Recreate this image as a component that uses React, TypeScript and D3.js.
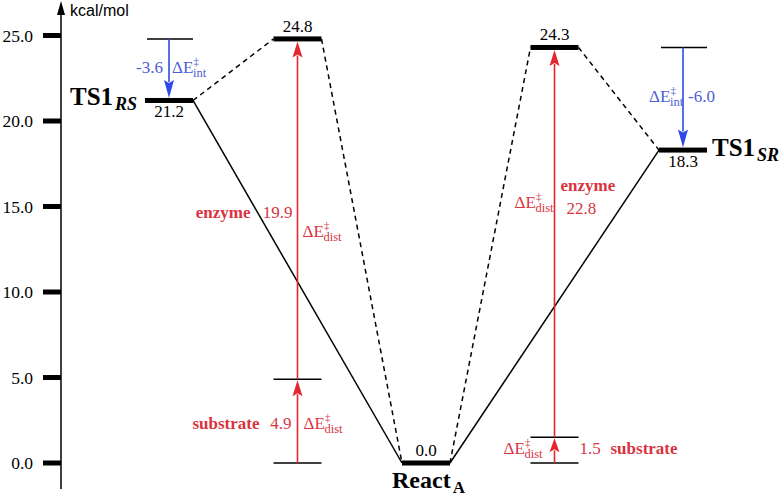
import React from "react";
import * as d3 from "d3";

// ---- data ----
const columnNames = ["TS1RS", "distRS", "ReactA", "distSR", "TS1SR"];
const levelEnergies = [21.2, 24.8, 0.0, 24.3, 18.3];
const levelLabels = ["21.2", "24.8", "0.0", "24.3", "18.3"];
const labelBelow = [true, false, false, false, true];
const substrateDist = [4.9, 1.5]; // columns 1 and 3
const enzymeDist = [19.9, 22.8]; // columns 1 and 3
const interactionE = [-3.6, -6.0]; // columns 0 and 4
const yTicks = [0, 5, 10, 15, 20, 25];
const solidLinks: [number, number][] = [[0, 2], [2, 4]];
const dashedLinks: [number, number][] = [[0, 1], [1, 2], [2, 3], [3, 4]];

const W = 784, H = 496;
const SERIF = "'Liberation Serif', 'Times New Roman', serif";
const SANS = "'Liberation Sans', Arial, sans-serif";
const RED = "#e42630";
const RED_T = "#d8343f";
const BLUE = "#2f4ae8";
const BLUE_T = "#4c60d4";

const x = d3.scaleLinear().domain([0, 4]).range([169, 683]);
const y = d3.scaleLinear().domain([0, 25]).range([463, 35.5]);
const HALF = 24;

function DeltaE({ x0, y0, sub, color }: { x0: number; y0: number; sub: string; color: string }) {
  return (
    <g fill={color} fontFamily={SERIF}>
      <text x={x0} y={y0} fontSize={17}>ΔE</text>
      <text x={x0 + 21.5} y={y0 - 8} fontSize={11}>‡</text>
      <text x={x0 + 21} y={y0 + 4} fontSize={12.5}>{sub}</text>
    </g>
  );
}

function Arrow({ xa, y1, y2, color, hl = 16 }: { xa: number; y1: number; y2: number; color: string; hl?: number }) {
  const dir = y2 < y1 ? -1 : 1;
  const hw = 5;
  const base = y2 - dir * hl;
  return (
    <g>
      <line x1={xa} y1={y1} x2={xa} y2={base + dir * 2} stroke={color} strokeWidth={1.6} />
      <path d={`M${xa},${y2} L${xa - hw},${base} L${xa},${base + dir * 3} L${xa + hw},${base} Z`} fill={color} />
    </g>
  );
}

export default function App() {
  const barW = 5;
  const lvY = levelEnergies.map((e) => y(e));
  const colX = columnNames.map((_, i) => x(i));
  return (
    <svg width={W} height={H} style={{ position: "absolute", left: 0, top: 0, background: "#fff" }}>
      {/* axis */}
      <line x1={61} y1={489} x2={61} y2={10} stroke="#000" strokeWidth={1.5} />
      <path d="M61,1 L57,15 L65,15 Z" fill="#000" />
      <text x={70} y={16} fontFamily={SANS} fontSize={16}>kcal/mol</text>
      {yTicks.map((t) => (
        <g key={t}>
          <rect x={43} y={y(t) - 2.5} width={18} height={5} fill="#000" />
          <text x={33} y={y(t) + 6} textAnchor="end" fontFamily={SERIF} fontSize={17.5}>{t.toFixed(1)}</text>
        </g>
      ))}

      {/* connectors */}
      {solidLinks.map(([a, b], i) => (
        <line key={"s" + i} x1={colX[a] + HALF} y1={lvY[a]} x2={colX[b] - HALF} y2={lvY[b]}
          stroke="#000" strokeWidth={1.5} />
      ))}
      {dashedLinks.map(([a, b], i) => (
        <line key={"d" + i} x1={colX[a] + HALF} y1={lvY[a]} x2={colX[b] - HALF} y2={lvY[b]}
          stroke="#000" strokeWidth={1.5} strokeDasharray="5,4" />
      ))}

      {/* thin reference lines */}
      {[1, 3].map((c, k) => (
        <g key={"sub" + c}>
          <line x1={colX[c] - HALF} x2={colX[c] + HALF} y1={y(0)} y2={y(0)} stroke="#000" strokeWidth={1.5} />
          <line x1={colX[c] - HALF} x2={colX[c] + HALF} y1={y(substrateDist[k])} y2={y(substrateDist[k])} stroke="#000" strokeWidth={1.5} />
        </g>
      ))}
      {[0, 4].map((c, k) => {
        const top = levelEnergies[c] - interactionE[k];
        return <line key={"int" + c} x1={colX[c] - HALF + 2} x2={colX[c] + HALF} y1={y(top)} y2={y(top)} stroke="#000" strokeWidth={1.5} />;
      })}

      {/* arrows */}
      {[1, 3].map((c, k) => (
        <g key={"ar" + c}>
          <Arrow xa={colX[c]} y1={y(0)} y2={y(substrateDist[k]) + 1} color={RED} hl={k === 1 ? 14 : 16} />
          <Arrow xa={colX[c]} y1={y(substrateDist[k])} y2={lvY[c] + barW / 2} color={RED} />
        </g>
      ))}
      {[0, 4].map((c, k) => {
        const top = levelEnergies[c] - interactionE[k];
        return <Arrow key={"bl" + c} xa={colX[c]} y1={y(top)} y2={lvY[c] - barW / 2} color={BLUE} hl={18} />;
      })}

      {/* level bars */}
      {columnNames.map((n, i) => (
        <g key={n}>
          <rect x={colX[i] - HALF} y={lvY[i] - barW / 2} width={HALF * 2} height={barW} fill="#000" />
          <text x={colX[i]} y={labelBelow[i] ? lvY[i] + 17 : lvY[i] - 7} textAnchor="middle" fontFamily={SERIF} fontSize={17}>
            {levelLabels[i]}
          </text>
        </g>
      ))}

      {/* species labels */}
      <text x={colX[0] - 99} y={lvY[0] + 5} fontFamily={SERIF} fontSize={25} fontWeight="bold">
        TS1<tspan fontSize={18} fontStyle="italic" dy={5} dx={2}>RS</tspan>
      </text>
      <text x={colX[4] + 29} y={lvY[4] + 6} fontFamily={SERIF} fontSize={25} fontWeight="bold">
        TS1<tspan fontSize={18} fontStyle="italic" dy={5} dx={2}>SR</tspan>
      </text>
      <text x={colX[2] - 34} y={y(0) + 25} fontFamily={SERIF} fontSize={24} fontWeight="bold">
        React<tspan fontSize={17} dy={5} dx={2}>A</tspan>
      </text>

      {/* distortion labels */}
      <g fontFamily={SERIF} fill={RED_T}>
        <text x={colX[1] - 47} y={218} textAnchor="end" fontSize={17} fontWeight="bold">enzyme</text>
        <text x={colX[1] - 5} y={218} textAnchor="end" fontSize={17}>{enzymeDist[0].toFixed(1)}</text>
        <text x={colX[1] - 38} y={429} textAnchor="end" fontSize={17} fontWeight="bold">substrate</text>
        <text x={colX[1] - 6} y={429} textAnchor="end" fontSize={17}>{substrateDist[0].toFixed(1)}</text>
        <text x={colX[3] + 6} y={191} fontSize={17} fontWeight="bold">enzyme</text>
        <text x={colX[3] + 12} y={214} fontSize={17}>{enzymeDist[1].toFixed(1)}</text>
        <text x={colX[3] + 25} y={454} fontSize={17}>{substrateDist[1].toFixed(1)}</text>
        <text x={colX[3] + 56} y={454} fontSize={17} fontWeight="bold">substrate</text>
      </g>
      <DeltaE x0={colX[1] + 5} y0={237} sub="dist" color={RED_T} />
      <DeltaE x0={colX[1] + 6} y0={429} sub="dist" color={RED_T} />
      <DeltaE x0={colX[3] - 40} y0={208} sub="dist" color={RED_T} />
      <DeltaE x0={colX[3] - 51} y0={454} sub="dist" color={RED_T} />

      {/* interaction labels */}
      <text x={colX[0] - 6} y={73} textAnchor="end" fontFamily={SERIF} fontSize={17} fill={BLUE_T}>{interactionE[0].toFixed(1)}</text>
      <DeltaE x0={colX[0] + 3} y0={73} sub="int" color={BLUE_T} />
      <text x={colX[4] + 5} y={102} fontFamily={SERIF} fontSize={17} fill={BLUE_T}>{interactionE[1].toFixed(1)}</text>
      <DeltaE x0={colX[4] - 34} y0={102} sub="int" color={BLUE_T} />
    </svg>
  );
}
